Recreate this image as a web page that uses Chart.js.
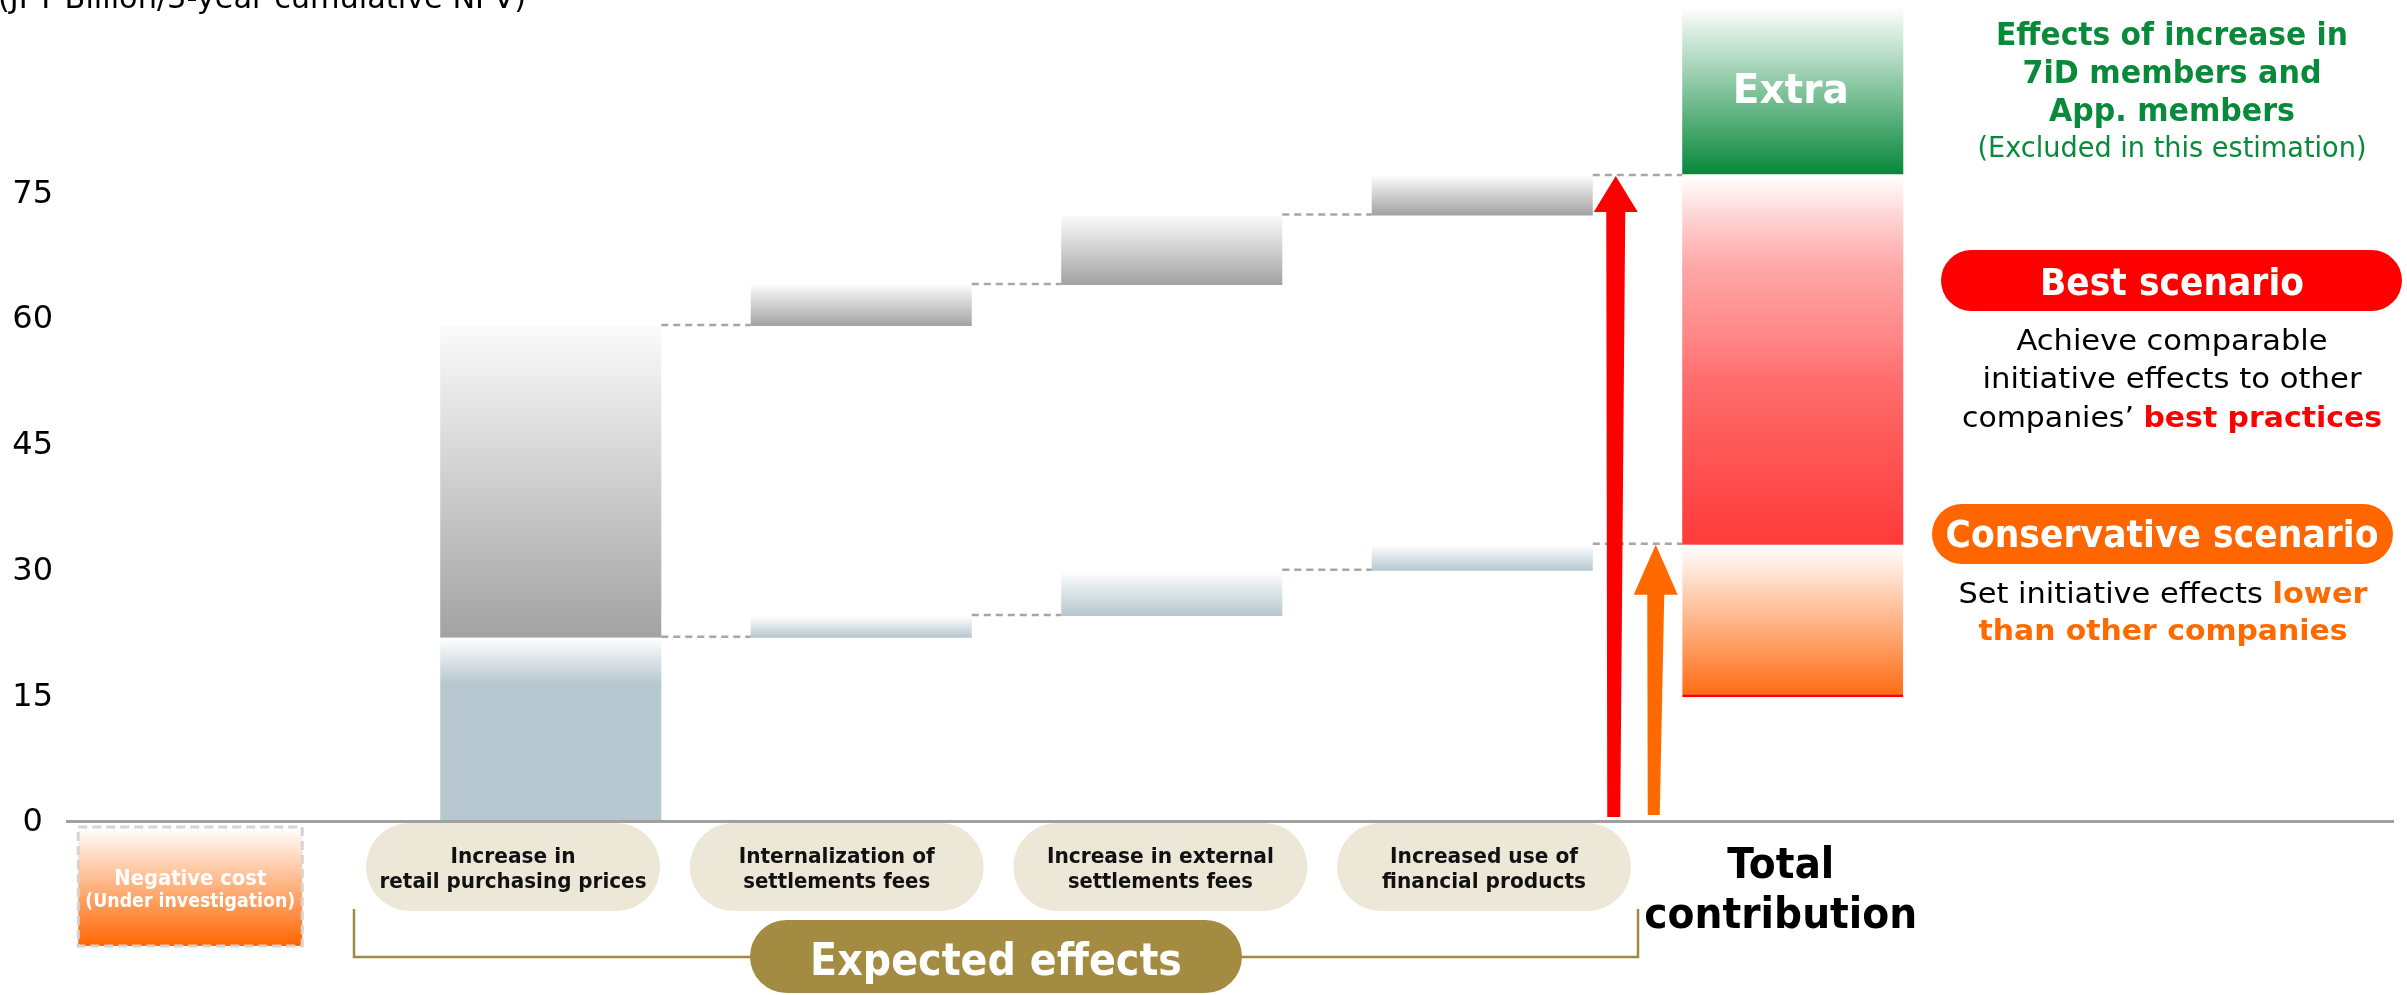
<!DOCTYPE html>
<html>
<head>
<meta charset="utf-8">
<title>Contribution estimate</title>
<script src="https://cdn.jsdelivr.net/npm/chart.js@4.4.1/dist/chart.umd.min.js"></script>
<style>
  html, body { margin: 0; padding: 0; background: #ffffff; overflow: hidden; }
  #wrap { width: 2407px; height: 995px; position: relative; }
  canvas { display: block; }
</style>
</head>
<body>
<div id="wrap"><canvas id="chart" width="2407" height="995"></canvas></div>
<script>
// ---- data -------------------------------------------------------------
const categories = [
  'Negative cost\n(Under investigation)',
  'Increase in\nretail purchasing prices',
  'Internalization of\nsettlements fees',
  'Increase in external\nsettlements fees',
  'Increased use of\nfinancial products',
  'Total\ncontribution'
];
// per-initiative increments (JPY Billion, 3-year cumulative NPV)
const conservativeSteps = [22.1, 2.6, 5.4, 3.1];
const bestSteps = [59.3, 4.9, 8.3, 4.7];
const conservativeFloor = 15;      // lower end of the conservative total
const extraRange = [77.4, 97.4];   // effects of member growth (not estimated)
const yTickValues = [0, 15, 30, 45, 60, 75];

// running totals of the two scenarios
const consCum = [];
conservativeSteps.reduce((s, v) => { consCum.push(+(s + v).toFixed(2)); return s + v; }, 0);
const bestCum = [];
bestSteps.reduce((s, v) => { bestCum.push(+(s + v).toFixed(2)); return s + v; }, 0);
const totalIndex = categories.length - 1;

const conservativeData = [null];
const bestData = [null];
consCum.forEach((v, i) => {
  conservativeData.push([i === 0 ? 0 : consCum[i - 1], v]);
  bestData.push([i === 0 ? consCum[0] : bestCum[i - 1], bestCum[i]]);
});
conservativeData.push([conservativeFloor, consCum[consCum.length - 1]]);
bestData.push([consCum[consCum.length - 1], bestCum[bestCum.length - 1]]);
const extraData = categories.map((_, i) => (i === totalIndex ? extraRange : null));

// ---- helpers ----------------------------------------------------------
const FONT = '"DejaVu Sans", Verdana, sans-serif';
const f = (weight, size) => `${weight} ${size}px ${FONT}`;

function vGrad(ctx, top, bottom, stops) {
  const g = ctx.createLinearGradient(0, top, 0, bottom);
  stops.forEach(([o, c]) => g.addColorStop(o, c));
  return g;
}

function barPixels(c) {
  const y = c.chart.scales.y;
  return { top: y.getPixelForValue(c.raw[1]), bottom: y.getPixelForValue(c.raw[0]) };
}

// draws a line of text runs centred on cx and squeezed/stretched to width
function drawRun(ctx, parts, cx, baseY, width) {
  ctx.save();
  let total = 0;
  parts.forEach(p => { ctx.font = p.font; p.w = ctx.measureText(p.text).width; total += p.w; });
  const sx = width ? width / total : 1;
  ctx.translate(cx - (total * sx) / 2, baseY);
  ctx.scale(sx, 1);
  ctx.textAlign = 'left';
  ctx.textBaseline = 'alphabetic';
  let xx = 0;
  parts.forEach(p => { ctx.font = p.font; ctx.fillStyle = p.color; ctx.fillText(p.text, xx, 0); xx += p.w; });
  ctx.restore();
}
const run = (text, font, color) => ({ text, font, color });

function roundRect(ctx, x, y, w, h, r) {
  ctx.beginPath();
  ctx.moveTo(x + r, y);
  ctx.lineTo(x + w - r, y);
  ctx.arc(x + w - r, y + r, r, -Math.PI / 2, Math.PI / 2);
  ctx.lineTo(x + r, y + h);
  ctx.arc(x + r, y + r, r, Math.PI / 2, Math.PI * 1.5);
  ctx.closePath();
}

function arrow(ctx, tip, base, headW, headH, shaftTop, shaftBottom, color) {
  const hy = tip.y + headH;
  ctx.save();
  ctx.fillStyle = color;
  ctx.beginPath();
  ctx.moveTo(tip.x, tip.y);
  ctx.lineTo(tip.x + headW / 2, hy);
  ctx.lineTo(tip.x + shaftTop / 2, hy);
  ctx.lineTo(base.x + shaftBottom / 2, base.y);
  ctx.lineTo(base.x - shaftBottom / 2, base.y);
  ctx.lineTo(tip.x - shaftTop / 2, hy);
  ctx.lineTo(tip.x - headW / 2, hy);
  ctx.closePath();
  ctx.fill();
  ctx.restore();
}

// ---- decorations drawn around the bars ---------------------------------
const decorations = {
  id: 'decorations',
  afterDatasetsDraw(chart) {
    const { ctx, scales: { x, y } } = chart;
    const meta = chart.getDatasetMeta(0);

    // dashed connectors between consecutive steps
    ctx.save();
    ctx.strokeStyle = '#a6a6a6';
    ctx.lineWidth = 2.5;
    ctx.setLineDash([7, 5]);
    for (let i = 1; i < totalIndex; i++) {
      const a = meta.data[i], b = meta.data[i + 1];
      const x1 = a.x + a.width / 2, x2 = b.x - b.width / 2;
      [consCum[i - 1], bestCum[i - 1]].forEach(v => {
        const py = y.getPixelForValue(v) - 1;
        ctx.beginPath(); ctx.moveTo(x1, py); ctx.lineTo(x2, py); ctx.stroke();
      });
    }
    ctx.restore();

    // category axis line
    const zeroY = y.getPixelForValue(0);
    ctx.save();
    ctx.strokeStyle = '#a0a0a0';
    ctx.lineWidth = 3;
    ctx.beginPath();
    ctx.moveTo(x.left - 19, zeroY - 1.5);
    ctx.lineTo(2394, zeroY - 1.5);
    ctx.stroke();
    ctx.restore();

    // scenario arrows pointing at the two totals
    const tx = meta.data[totalIndex].x;
    arrow(ctx, { x: tx - 177, y: y.getPixelForValue(bestCum[bestCum.length - 1]) },
      { x: tx - 179, y: zeroY - 6 }, 44, 36, 19, 13, '#ff0000');
    arrow(ctx, { x: tx - 137, y: y.getPixelForValue(consCum[consCum.length - 1]) },
      { x: tx - 139, y: zeroY - 8 }, 44, 50, 17, 12, '#ff6a00');
  },

  afterDraw(chart) {
    const { ctx, scales: { x, y } } = chart;
    const meta = chart.getDatasetMeta(0);

    // unit caption
    drawRun(ctx, [run('(JPY Billion/3-year cumulative NPV)', f('normal', 30), '#000')], 262, 8, 528);

    // negative cost box below the axis
    const nx = x.getPixelForValue(0) - 162, ny = 827, nw = 224, nh = 119;
    ctx.save();
    ctx.fillStyle = vGrad(ctx, ny, ny + nh, [[0, '#ffffff'], [1, '#ff6600']]);
    ctx.fillRect(nx, ny, nw, nh);
    ctx.strokeStyle = '#d4d4d4';
    ctx.lineWidth = 3;
    ctx.setLineDash([9, 5]);
    ctx.strokeRect(nx, ny, nw, nh);
    ctx.restore();
    const negLines = categories[0].split('\n');
    drawRun(ctx, [run(negLines[0], f('bold', 22), '#ffffff')], nx + nw / 2, 885, 152);
    drawRun(ctx, [run(negLines[1], f('bold', 19), '#ffffff')], nx + nw / 2, 907, 210);

    // initiative labels in rounded pills
    const pillWidths = [[125, 267], [196, 187], [227, 185], [188, 204]];
    for (let i = 1; i < totalIndex; i++) {
      const cx = 513 + (i - 1) * 323.7;
      ctx.save();
      ctx.fillStyle = '#ece7d7';
      roundRect(ctx, cx - 147, 823, 294, 88, 44);
      ctx.fill();
      ctx.restore();
      const lines = categories[i].split('\n');
      drawRun(ctx, [run(lines[0], f('bold', 21), '#111111')], cx, 863, pillWidths[i - 1][0]);
      drawRun(ctx, [run(lines[1], f('bold', 21), '#111111')], cx, 888, pillWidths[i - 1][1]);
    }

    // bracket grouping the expected effects
    ctx.save();
    ctx.strokeStyle = '#a08a45';
    ctx.lineWidth = 2.5;
    ctx.beginPath();
    ctx.moveTo(354, 909); ctx.lineTo(354, 957); ctx.lineTo(1638, 957); ctx.lineTo(1638, 909);
    ctx.stroke();
    ctx.fillStyle = '#a38b41';
    roundRect(ctx, 750, 920, 492, 73, 36.5);
    ctx.fill();
    ctx.restore();
    drawRun(ctx, [run('Expected effects', f('bold', 44), '#ffffff')], 996, 975, 372);

    // total label
    const tx = meta.data[totalIndex].x;
    const totalLines = categories[totalIndex].split('\n');
    drawRun(ctx, [run(totalLines[0], f('bold', 42), '#000')], tx - 12, 878, 107);
    drawRun(ctx, [run(totalLines[1], f('bold', 42), '#000')], tx - 12, 928, 273);

    // label inside the extra segment
    drawRun(ctx, [run('Extra', f('bold', 40), '#ffffff')], tx - 2, 103, 116);

    // notes on the right
    const rx = 2172;
    const green = '#098a3b';
    drawRun(ctx, [run('Effects of increase in', f('bold', 32), green)], rx, 45, 352);
    drawRun(ctx, [run('7iD members and', f('bold', 32), green)], rx, 83, 299);
    drawRun(ctx, [run('App. members', f('bold', 32), green)], rx, 121, 246);
    drawRun(ctx, [run('(Excluded in this estimation)', f('normal', 28), green)], rx, 157, 389);

    ctx.save();
    ctx.fillStyle = '#ff0000';
    roundRect(ctx, 1941, 250, 461, 61, 30.5);
    ctx.fill();
    ctx.fillStyle = '#ff6600';
    roundRect(ctx, 1932, 504, 461, 60, 30);
    ctx.fill();
    ctx.restore();

    drawRun(ctx, [run('Best scenario', f('bold', 38), '#ffffff')], rx, 295, 264);
    drawRun(ctx, [run('Achieve comparable', f('normal', 28), '#000')], rx, 350, 311);
    drawRun(ctx, [run('initiative effects to other', f('normal', 28), '#000')], rx, 388, 379);
    drawRun(ctx, [run('companies\u2019 ', f('normal', 28), '#000'),
                  run('best practices', f('bold', 28), '#ff0000')], rx, 427, 420);

    drawRun(ctx, [run('Conservative scenario', f('bold', 38), '#ffffff')], 2162, 547, 433);
    drawRun(ctx, [run('Set initiative effects ', f('normal', 28), '#000'),
                  run('lower', f('bold', 28), '#ff6a00')], 2163, 603, 409);
    drawRun(ctx, [run('than other companies', f('bold', 28), '#ff6a00')], 2163, 640, 369);
  }
};

// ---- chart -------------------------------------------------------------
const ctx = document.getElementById('chart').getContext('2d');
new Chart(ctx, {
  type: 'bar',
  data: {
    labels: categories,
    datasets: [
      {
        label: 'Conservative scenario',
        data: conservativeData,
        backgroundColor: c => {
          if (!c.raw || !c.chart.chartArea) return 'rgba(0,0,0,0)';
          const { top, bottom } = barPixels(c);
          if (c.dataIndex === totalIndex)
            return vGrad(c.chart.ctx, top, bottom, [[0, '#ffffff'], [1, '#ff6a10']]);
          const fade = Math.min(bottom - top, 46);
          return vGrad(c.chart.ctx, top, top + fade, [[0, '#ffffff'], [1, '#b6c7cf']]);
        },
        borderColor: '#ff0000',
        borderWidth: c => (c.dataIndex === totalIndex ? { top: 0, left: 0, right: 0, bottom: 3 } : 0)
      },
      {
        label: 'Best scenario',
        data: bestData,
        backgroundColor: c => {
          if (!c.raw || !c.chart.chartArea) return 'rgba(0,0,0,0)';
          const { top, bottom } = barPixels(c);
          if (c.dataIndex === totalIndex)
            return vGrad(c.chart.ctx, top, bottom, [[0, '#ffffff'], [0.12, '#ffd0d0'], [0.25, '#ffa6a6'],
              [0.43, '#ff8888'], [0.55, '#ff6e6e'], [0.73, '#ff5858'], [1, '#ff3a3a']]);
          return vGrad(c.chart.ctx, top, bottom, [[0, '#fbfbfb'], [1, '#a2a2a2']]);
        },
        borderWidth: 0
      },
      {
        label: 'Extra',
        data: extraData,
        backgroundColor: c => {
          if (!c.raw || !c.chart.chartArea) return 'rgba(0,0,0,0)';
          const { top, bottom } = barPixels(c);
          return vGrad(c.chart.ctx, top, bottom, [[0, '#ffffff'], [1, '#06883a']]);
        },
        borderWidth: 0
      }
    ]
  },
  options: {
    responsive: false,
    animation: false,
    events: [],
    layout: { padding: { left: 0, right: 459, top: 0, bottom: 172 } },
    datasets: {
      bar: { grouped: false, categoryPercentage: 1, barPercentage: 0.712, borderSkipped: false }
    },
    plugins: { legend: { display: false }, tooltip: { enabled: false } },
    scales: {
      x: { display: false, offset: true },
      y: {
        min: 0,
        max: 98.2,
        grid: { display: false, drawTicks: false },
        border: { display: false },
        afterBuildTicks: s => { s.ticks = yTickValues.map(v => ({ value: v })); },
        afterFit: s => { s.width = 85; s.paddingTop = 0; s.paddingBottom = 0; },
        ticks: {
          font: { family: '"DejaVu Sans", Verdana, sans-serif', size: 32 },
          color: '#000000',
          crossAlign: 'center',
          padding: 32
        }
      }
    }
  },
  plugins: [decorations]
});
</script>
</body>
</html>
